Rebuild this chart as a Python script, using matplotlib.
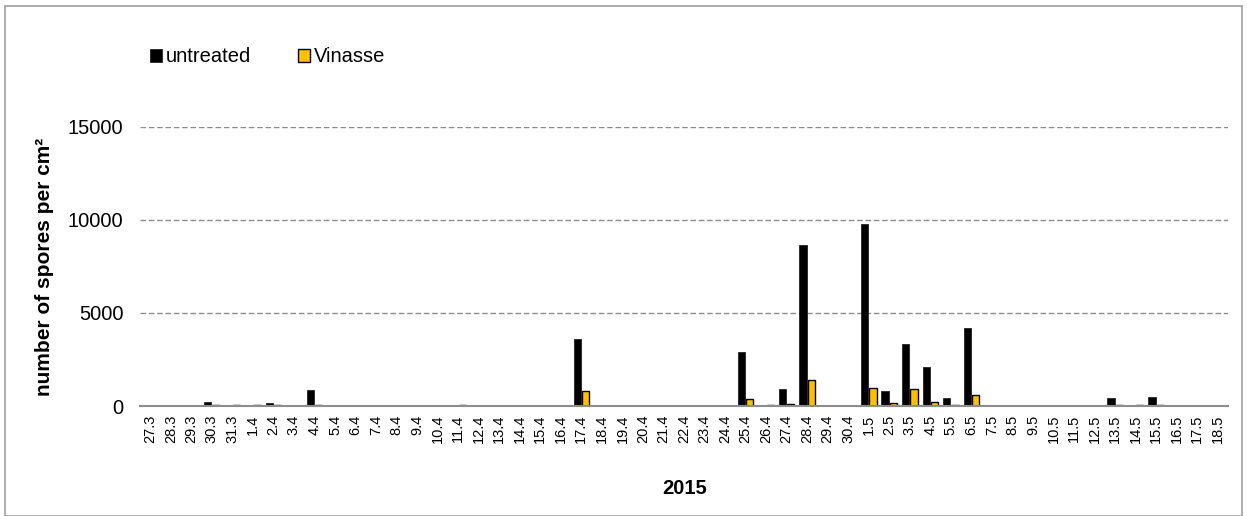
import matplotlib
matplotlib.use("Agg")
import matplotlib.pyplot as plt
import numpy as np
from matplotlib.patches import Rectangle

plt.rcParams['font.family'] = ['Liberation Sans', 'DejaVu Sans']

dates = ["27.3", "28.3", "29.3", "30.3", "31.3", "1.4", "2.4", "3.4", "4.4", "5.4",
         "6.4", "7.4", "8.4", "9.4", "10.4", "11.4", "12.4", "13.4", "14.4", "15.4",
         "16.4", "17.4", "18.4", "19.4", "20.4", "21.4", "22.4", "23.4", "24.4", "25.4",
         "26.4", "27.4", "28.4", "29.4", "30.4", "1.5", "2.5", "3.5", "4.5", "5.5",
         "6.5", "7.5", "8.5", "9.5", "10.5", "11.5", "12.5", "13.5", "14.5", "15.5",
         "16.5", "17.5", "18.5"]

untreated = [0, 0, 0, 200, 30, 30, 150, 0, 850, 0,
             0, 0, 0, 0, 0, 40, 0, 0, 0, 0,
             0, 3600, 0, 0, 0, 0, 0, 0, 0, 2900,
             50, 900, 8650, 0, 0, 9800, 800, 3330, 2100, 430,
             4200, 0, 0, 0, 0, 0, 0, 450, 60, 500,
             0, 0, 0]

vinasse = [0, 0, 0, 60, 30, 30, 80, 0, 50, 0,
           0, 0, 0, 0, 0, 30, 0, 0, 0, 0,
           0, 800, 0, 0, 0, 0, 0, 0, 0, 350,
           30, 100, 1400, 0, 0, 950, 150, 900, 200, 80,
           600, 0, 0, 0, 0, 0, 0, 60, 60, 80,
           0, 0, 0]

fig = plt.figure(figsize=(12.47, 5.16), dpi=100)
ax = fig.add_axes([140/1247, 1-406/516, 1088/1247, (406-127)/516])

x = np.arange(len(dates))
w = 0.36
ax.bar(x - w/2 - 0.02, untreated, width=w, color='black', edgecolor='#222222', linewidth=0.6,
       label='untreated', zorder=3)
ax.bar(x + w/2 + 0.02, vinasse, width=w, color='#FFC000', edgecolor='black', linewidth=1.0,
       label='Vinasse', zorder=3)

ax.set_xlim(-0.5, len(dates) - 0.5)
ax.set_ylim(0, 15000)
ax.set_yticks([0, 5000, 10000, 15000])
ax.yaxis.grid(True, linestyle=(0, (4, 2)), color='#8c8c8c', linewidth=1.0, zorder=0)
ax.set_xticks(x)
ax.set_xticklabels(dates, rotation=90, fontsize=10.5)
ax.tick_params(axis='y', labelsize=14.5, length=0, pad=12)
ax.tick_params(axis='x', length=0, pad=6)
for s in ['top', 'right', 'left']:
    ax.spines[s].set_visible(False)
ax.spines['bottom'].set_color('#8c8c8c')
ax.spines['bottom'].set_linewidth(1.5)
ax.spines['bottom'].set_zorder(4)

ax.set_ylabel('number of spores per cm²', fontsize=15, fontweight='bold', labelpad=10)
fig.text(685/1247, 1-488/516, '2015', fontsize=14.5, fontweight='bold', ha='center', va='center')

fig.legend(loc='center left', bbox_to_anchor=(132/1247, 1-57/516), ncol=2, frameon=False,
           fontsize=14.5, handlelength=0.6, handleheight=0.6, handletextpad=0.2,
           columnspacing=2.3)

fig.add_artist(Rectangle((0.004, 0.0), 0.992, 0.988, transform=fig.transFigure,
                         fill=False, edgecolor='#a0a0a0', linewidth=1.2))

fig.savefig('out.png', dpi=100)
